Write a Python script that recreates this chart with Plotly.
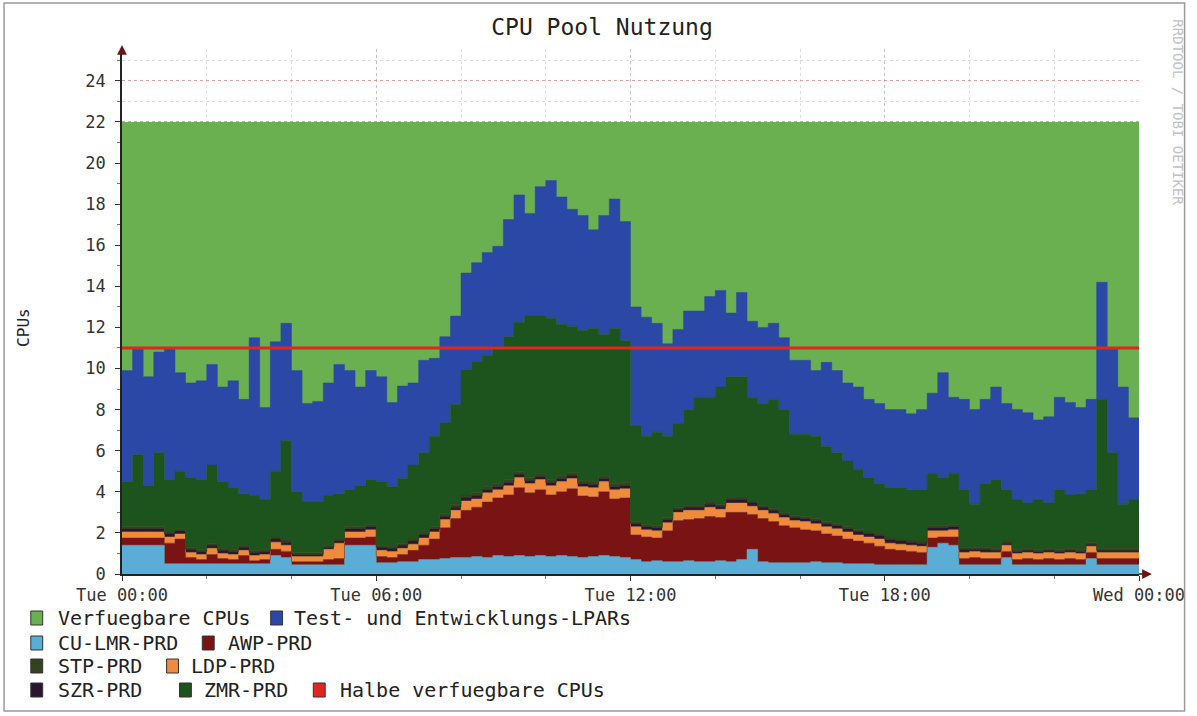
import pandas as pd
import plotly.graph_objects as go

# one sample every 15 minutes, Tue 00:00 .. Wed 00:00
times = pd.date_range("2024-01-02 00:00", periods=97, freq="15min")

cu_lmr_prd = [
    1.4, 1.4, 1.4, 1.4, 0.5, 0.5, 0.5, 0.5, 0.5, 0.5, 0.5, 0.5,
    0.5, 0.5, 0.9, 0.8, 0.45, 0.45, 0.45, 0.45, 0.45, 1.4, 1.4, 1.4,
    0.55, 0.55, 0.6, 0.6, 0.7, 0.7, 0.75, 0.8, 0.8, 0.85, 0.8, 0.9,
    0.85, 0.9, 0.85, 0.9, 0.85, 0.9, 0.85, 0.8, 0.85, 0.9, 0.85, 0.8,
    0.7, 0.6, 0.65, 0.6, 0.6, 0.65, 0.6, 0.6, 0.65, 0.6, 0.7, 1.2,
    0.6, 0.55, 0.55, 0.55, 0.55, 0.6, 0.55, 0.55, 0.5, 0.5, 0.5, 0.45,
    0.45, 0.45, 0.45, 0.45, 1.3, 1.5, 1.4, 0.45, 0.45, 0.45, 0.45, 0.8,
    0.45, 0.45, 0.45, 0.45, 0.45, 0.45, 0.45, 0.75, 0.45, 0.45, 0.45, 0.45,
    0.45,
]
awp_prd = [
    0.35, 0.35, 0.35, 0.35, 1.0, 1.2, 0.3, 0.2, 0.45, 0.25, 0.2, 0.4,
    0.15, 0.2, 0.3, 0.3, 0.15, 0.15, 0.15, 0.25, 0.3, 0.35, 0.35, 0.4,
    0.3, 0.25, 0.35, 0.55, 0.7, 1.0, 1.5, 1.9, 2.3, 2.4, 2.7, 2.8,
    3.0, 3.3, 3.1, 3.2, 3.0, 3.1, 3.3, 3.0, 2.9, 3.1, 2.8, 2.9,
    1.2, 1.2, 1.1, 1.5, 2.0, 2.0, 2.1, 2.2, 2.1, 2.4, 2.3, 1.7,
    2.1, 2.0, 1.8, 1.7, 1.6, 1.5, 1.4, 1.3, 1.2, 1.1, 1.0, 0.9,
    0.75, 0.7, 0.65, 0.6, 0.45, 0.3, 0.4, 0.3, 0.35, 0.3, 0.3, 0.3,
    0.25, 0.3, 0.25, 0.3, 0.25, 0.3, 0.25, 0.3, 0.3, 0.3, 0.3, 0.3,
    0.3,
]
ldp_prd = [
    0.3, 0.3, 0.3, 0.3, 0.3, 0.25, 0.25, 0.25, 0.3, 0.25, 0.25, 0.25,
    0.25, 0.25, 0.35, 0.3, 0.25, 0.25, 0.25, 0.5, 0.75, 0.3, 0.3, 0.35,
    0.3, 0.3, 0.3, 0.3, 0.35, 0.35, 0.4, 0.4, 0.45, 0.4, 0.45, 0.4,
    0.45, 0.5, 0.45, 0.5, 0.45, 0.5, 0.5, 0.45, 0.45, 0.5, 0.45, 0.45,
    0.4, 0.35, 0.35, 0.4, 0.4, 0.45, 0.4, 0.45, 0.4, 0.45, 0.45, 0.4,
    0.4, 0.4, 0.4, 0.35, 0.4, 0.35, 0.35, 0.35, 0.35, 0.3, 0.3, 0.35,
    0.3, 0.3, 0.3, 0.3, 0.35, 0.3, 0.35, 0.3, 0.3, 0.3, 0.3, 0.3,
    0.3, 0.3, 0.3, 0.3, 0.3, 0.3, 0.3, 0.3, 0.3, 0.3, 0.3, 0.3,
    0.3,
]
szr_prd = [
    0.15, 0.15, 0.15, 0.15, 0.15, 0.15, 0.15, 0.15, 0.15, 0.15, 0.15, 0.15,
    0.15, 0.15, 0.15, 0.15, 0.1, 0.1, 0.1, 0.1, 0.1, 0.15, 0.15, 0.15,
    0.15, 0.15, 0.15, 0.15, 0.15, 0.15, 0.15, 0.15, 0.15, 0.15, 0.15, 0.15,
    0.15, 0.15, 0.15, 0.15, 0.15, 0.15, 0.15, 0.15, 0.15, 0.15, 0.15, 0.15,
    0.15, 0.15, 0.15, 0.15, 0.15, 0.15, 0.15, 0.15, 0.15, 0.15, 0.15, 0.15,
    0.15, 0.15, 0.15, 0.15, 0.15, 0.15, 0.15, 0.15, 0.15, 0.15, 0.15, 0.15,
    0.15, 0.15, 0.15, 0.15, 0.15, 0.15, 0.15, 0.15, 0.1, 0.15, 0.1, 0.1,
    0.1, 0.1, 0.1, 0.1, 0.1, 0.1, 0.1, 0.1, 0.1, 0.1, 0.1, 0.1,
    0.1,
]
stp_prd = [
    0.1, 0.1, 0.1, 0.1, 0.1, 0.1, 0.1, 0.1, 0.1, 0.1, 0.1, 0.1,
    0.1, 0.1, 0.1, 0.1, 0.1, 0.1, 0.1, 0.1, 0.1, 0.1, 0.1, 0.1,
    0.1, 0.1, 0.1, 0.1, 0.1, 0.1, 0.15, 0.15, 0.15, 0.15, 0.15, 0.15,
    0.15, 0.15, 0.15, 0.15, 0.15, 0.15, 0.15, 0.15, 0.15, 0.15, 0.15, 0.15,
    0.1, 0.1, 0.1, 0.1, 0.1, 0.1, 0.1, 0.1, 0.1, 0.1, 0.1, 0.1,
    0.1, 0.1, 0.1, 0.1, 0.1, 0.1, 0.1, 0.1, 0.1, 0.1, 0.1, 0.1,
    0.1, 0.1, 0.1, 0.1, 0.1, 0.1, 0.1, 0.1, 0.1, 0.1, 0.1, 0.1,
    0.1, 0.1, 0.1, 0.1, 0.1, 0.1, 0.1, 0.1, 0.1, 0.1, 0.1, 0.1,
    0.1,
]
zmr_prd = [
    2.2, 3.5, 2.0, 3.6, 2.55, 2.8, 3.4, 3.4, 3.8, 3.25, 3.0, 2.5,
    2.65, 2.4, 3.2, 4.85, 2.95, 2.45, 2.45, 2.4, 2.2, 1.8, 2.0, 2.2,
    3.1, 2.9, 3.15, 3.6, 3.9, 4.4, 4.4, 4.85, 6.1, 6.4, 6.4, 6.65,
    6.95, 7.25, 7.85, 7.65, 7.85, 7.35, 7.1, 7.3, 7.45, 6.85, 7.55, 6.9,
    4.65, 4.3, 4.55, 3.95, 4.05, 4.65, 5.25, 5.1, 5.7, 5.9, 5.9, 5.05,
    4.95, 5.3, 5.0, 3.95, 4.0, 4.0, 3.65, 3.45, 3.2, 2.95, 2.65, 2.45,
    2.45, 2.5, 2.45, 2.5, 2.55, 2.35, 2.5, 2.8, 2.1, 3.1, 3.35, 2.5,
    2.4, 2.2, 2.4, 2.2, 2.9, 2.6, 2.7, 2.55, 7.25, 4.65, 2.15, 2.35,
    2.25,
]
test_lpars = [
    5.4, 5.2, 5.3, 4.9, 6.4, 4.8, 4.6, 4.8, 4.9, 4.6, 5.2, 4.6,
    7.7, 4.5, 6.3, 5.7, 5.9, 4.8, 4.9, 5.5, 6.3, 5.8, 4.8, 5.3,
    5.1, 4.1, 4.5, 4.0, 4.5, 3.8, 4.2, 4.3, 4.7, 4.8, 5.0, 4.9,
    5.7, 6.2, 5.0, 6.3, 6.7, 6.2, 5.7, 5.6, 4.8, 5.8, 6.3, 5.8,
    5.8, 5.8, 5.3, 4.5, 4.6, 4.8, 4.2, 4.9, 4.7, 3.1, 4.1, 3.7,
    3.7, 3.7, 3.5, 3.6, 3.6, 3.2, 4.1, 4.0, 3.8, 4.0, 3.8, 3.9,
    3.8, 3.8, 3.7, 3.9, 3.9, 5.1, 3.7, 4.4, 4.6, 4.1, 4.5, 4.2,
    4.4, 4.4, 3.9, 4.2, 4.5, 4.5, 4.2, 4.4, 5.7, 5.1, 5.7, 4.0,
    4.1,
]
verfuegbare_cpus = [22, 22]
halbe_cpus = [11, 11]

x_tick_vals = ["2024-01-02 00:00", "2024-01-02 06:00", "2024-01-02 12:00",
               "2024-01-02 18:00", "2024-01-03 00:00"]
x_tick_labels = ["Tue 00:00", "Tue 06:00", "Tue 12:00", "Tue 18:00", "Wed 00:00"]
y_tick_vals = [0, 2, 4, 6, 8, 10, 12, 14, 16, 18, 20, 22, 24]

FONT = "DejaVu Sans Mono"
W, H = 1197, 716
ML, MR, MT, MB = 122, 49, 49, 142


def px(x):
    return (x - ML) / (W - ML - MR)


def py(y):
    return (H - MB - y) / (H - MT - MB)


fig = go.Figure()

edges = [times[0], times[-1]]
fig.add_trace(go.Scatter(
    x=edges, y=verfuegbare_cpus, mode="lines", fill="tozeroy",
    line=dict(width=0, color="#6ab050"), fillcolor="#6ab050",
    name="Verfuegbare CPUs",
))

stack = [
    ("CU-LMR-PRD", cu_lmr_prd, "#5aaed6"),
    ("AWP-PRD", awp_prd, "#7a1414"),
    ("LDP-PRD", ldp_prd, "#f08a3c"),
    ("SZR-PRD", szr_prd, "#2a1630"),
    ("STP-PRD", stp_prd, "#35421e"),
    ("ZMR-PRD", zmr_prd, "#1d531d"),
    ("Test- und Entwicklungs-LPARs", test_lpars, "#2c48a6"),
]
for name, vals, color in stack:
    fig.add_trace(go.Scatter(
        x=times, y=vals, mode="lines", stackgroup="cpu", name=name,
        line=dict(width=0.5, color=color, shape="hv"), fillcolor=color,
    ))

fig.add_trace(go.Scatter(
    x=edges, y=halbe_cpus, mode="lines",
    line=dict(width=3, color="#e0261e"), name="Halbe verfuegbare CPUs",
))

# legend drawn by hand, rrdtool style rows
legend_items = [
    ("Verfuegbare CPUs", "#6ab050", 30, 55, 618),
    ("Test- und Entwicklungs-LPARs", "#2c48a6", 272, 294, 618),
    ("CU-LMR-PRD", "#5aaed6", 30, 55, 643),
    ("AWP-PRD", "#7a1414", 203, 227, 643),
    ("STP-PRD", "#35421e", 30, 55, 666),
    ("LDP-PRD", "#f08a3c", 167, 190, 666),
    ("SZR-PRD", "#2a1630", 30, 55, 690),
    ("ZMR-PRD", "#1d531d", 180, 203, 690),
    ("Halbe verfuegbare CPUs", "#e0261e", 315, 340, 690),
]
shapes = []
annotations = []
for label, color, xs, xt, yc in legend_items:
    shapes.append(dict(
        type="rect", xref="paper", yref="paper",
        x0=px(xs), x1=px(xs + 12), y0=py(yc + 7), y1=py(yc - 7),
        fillcolor=color, line=dict(color="#333333", width=1),
    ))
    annotations.append(dict(
        xref="paper", yref="paper", x=px(xt), y=py(yc),
        xanchor="left", yanchor="middle", showarrow=False, text=label,
        font=dict(family=FONT, size=20, color="#222222"),
    ))

# outer frame and x axis extension
shapes.append(dict(type="rect", xref="paper", yref="paper",
                   x0=px(3), x1=px(1194), y0=py(711), y1=py(3),
                   line=dict(color="#9a9a9a", width=1.5)))
shapes.append(dict(type="line", xref="paper", yref="paper",
                   x0=1, x1=px(1156), y0=0, y1=0,
                   line=dict(color="#222222", width=1.5)))

annotations += [
    dict(xref="paper", yref="paper", x=px(22), y=py(327), text="CPUs",
         textangle=-90, showarrow=False, xanchor="center", yanchor="middle",
         font=dict(family=FONT, size=16, color="#222222")),
    dict(xref="paper", yref="paper", x=px(1187), y=py(112),
         text="RRDTOOL / TOBI OETIKER", textangle=90, showarrow=False,
         xanchor="center", yanchor="middle",
         font=dict(family=FONT, size=14, color="#c2c2c2")),
    # axis arrowheads
    dict(xref="paper", yref="paper", x=0, y=py(45), text="", showarrow=True,
         ax=0, ay=10, arrowhead=2, arrowsize=1.3, arrowwidth=1.5,
         arrowcolor="#6b1414"),
    dict(xref="paper", yref="paper", x=px(1161), y=0, text="", showarrow=True,
         ax=-10, ay=0, arrowhead=2, arrowsize=1.3, arrowwidth=1.5,
         arrowcolor="#6b1414"),
]

fig.update_layout(
    width=W, height=H,
    margin=dict(l=ML, r=MR, t=MT, b=MB),
    paper_bgcolor="white", plot_bgcolor="white",
    showlegend=False,
    title=dict(text="CPU Pool Nutzung", x=602 / W, xanchor="center",
               y=1 - 27 / H, yanchor="middle",
               font=dict(family=FONT, size=23, color="#222222")),
    shapes=shapes, annotations=annotations,
    xaxis=dict(
        type="date", range=[times[0], times[-1]],
        tickvals=x_tick_vals, ticktext=x_tick_labels,
        tickfont=dict(family=FONT, size=17, color="#333333"),
        ticks="outside", ticklen=5, tickcolor="#333333",
        showline=True, linecolor="#222222", linewidth=1.5,
        showgrid=True, gridcolor="rgba(200,120,120,0.35)", griddash="dot",
        minor=dict(dtick=2 * 3600000, showgrid=True, gridcolor="#dddddd",
                   griddash="dot", ticks="outside", ticklen=3,
                   tickcolor="#777777"),
        zeroline=False, fixedrange=True,
    ),
    yaxis=dict(
        range=[0, 25.55], tickvals=y_tick_vals,
        tickfont=dict(family=FONT, size=17, color="#333333"),
        ticks="outside", ticklen=5, tickcolor="#333333",
        ticklabelstandoff=6,
        showline=True, linecolor="#222222", linewidth=1.5,
        showgrid=True, gridcolor="rgba(215,90,90,0.45)", griddash="dot",
        minor=dict(dtick=1, showgrid=True, gridcolor="#dddddd",
                   griddash="dot", ticks="outside", ticklen=3,
                   tickcolor="#777777"),
        zeroline=False, fixedrange=True,
    ),
)

fig.write_html("out.html", config={"displayModeBar": False},
               post_script="document.body.style.margin = '0';")
